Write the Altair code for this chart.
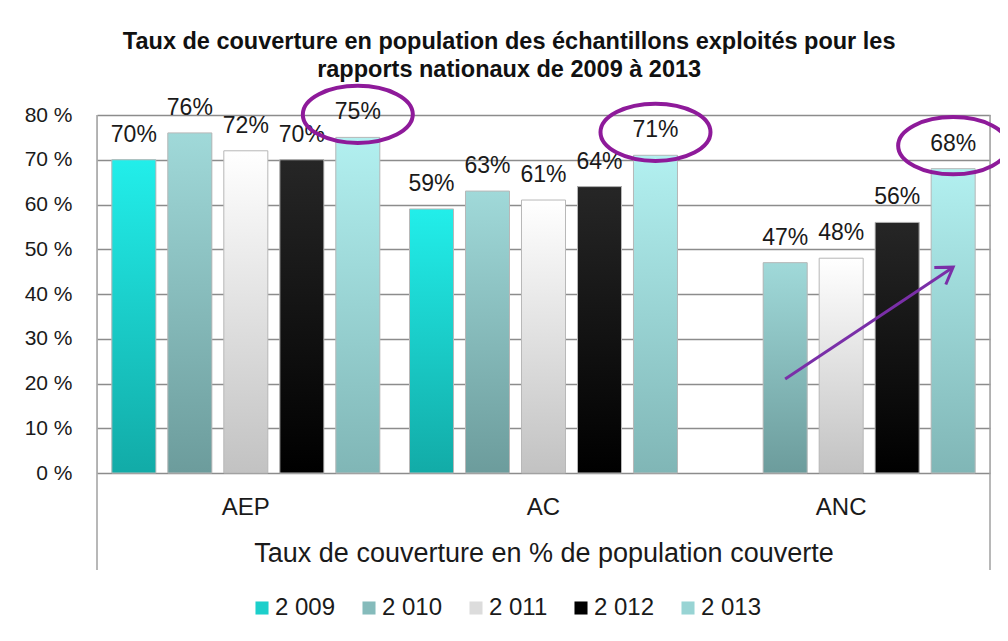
import altair as alt
import pandas as pd

# ---------------- data ----------------
categories = ["AEP", "AC", "ANC"]
years = ["2 009", "2 010", "2 011", "2 012", "2 013"]
v2009 = [0.70, 0.59, None]
v2010 = [0.76, 0.63, 0.47]
v2011 = [0.72, 0.61, 0.48]
v2012 = [0.70, 0.64, 0.56]
v2013 = [0.75, 0.71, 0.68]
series = [v2009, v2010, v2011, v2012, v2013]

y_ticks = [0, 0.1, 0.2, 0.3, 0.4, 0.5, 0.6, 0.7, 0.8]
title_lines = [
    "Taux de couverture en population  des échantillons exploités pour les",
    "rapports nationaux de 2009 à 2013",
]
x_title = "Taux de couverture en % de population couverte"

highlight_year = "2 013"
arrow_category = "ANC"
arrow_years = ["2 010", "2 013"]
arrow_values = [0.21, 0.46]

# ---------------- styles ----------------
legend_colors = ["#1CCFCB", "#85BBBB", "#DCDCDC", "#000000", "#98D4D4"]
grad_top = ["#22EEEA", "#A0D9D9", "#FFFFFF", "#262626", "#B2F0F0"]
grad_bottom = ["#12ABA7", "#6C9C9C", "#C2C2C2", "#000000", "#80B6B6"]
PURPLE = "#8E1A9A"
ARROW = "#7A2FA8"
GRID = "#8C8C8C"
FONT = "Liberation Sans"
W, H = 893, 358

rows = []
for yr, vals in zip(years, series):
    for cat, v in zip(categories, vals):
        if v is not None:
            rows.append({"cat": cat, "year": yr, "value": v})
df = pd.DataFrame(rows)

arrow_df = pd.DataFrame({"cat": [arrow_category] * 2, "year": arrow_years, "value": arrow_values})
arrow_end = arrow_df.iloc[[-1]]

x_enc = alt.X(
    "cat:N",
    sort=categories,
    scale=alt.Scale(domain=categories, paddingInner=0, paddingOuter=0),
    axis=alt.Axis(
        title=x_title, labelAngle=0, ticks=False, domain=False,
        labelFontSize=24, labelPadding=22, titleFontSize=27, titleFontWeight="normal",
        titlePadding=21, labelColor="#1a1a1a", titleColor="#1a1a1a",
        labelFont=FONT, titleFont=FONT,
    ),
)
xo_enc = alt.XOffset("year:N", scale=alt.Scale(domain=years, paddingInner=0.214, paddingOuter=0.265))
y_enc = alt.Y(
    "value:Q",
    scale=alt.Scale(domain=[0, 0.8]),
    axis=alt.Axis(
        values=y_ticks, title=None, ticks=False, domain=False,
        labelExpr="round(datum.value*100) + ' %'",
        labelFontSize=21, labelPadding=25, labelColor="#1a1a1a", labelFont=FONT,
        grid=True, gridColor=GRID, gridWidth=1.5,
    ),
)

base = alt.Chart(df).encode(x=x_enc, xOffset=xo_enc, y=y_enc)

legend_bars = base.mark_bar().encode(
    color=alt.Color(
        "year:N",
        scale=alt.Scale(domain=years, range=legend_colors),
        legend=alt.Legend(
            title=None, orient="none", direction="horizontal",
            legendX=153, legendY=481,
            symbolType="square", symbolSize=170, symbolStrokeWidth=0,
            labelFontSize=24, labelFont=FONT, labelColor="#1a1a1a",
            labelOffset=1, columnPadding=21,
        ),
    )
)

grad_layers = []
for yr, top, bot in zip(years, grad_top, grad_bottom):
    grad_layers.append(
        base.transform_filter(alt.datum.year == yr).mark_bar(
            color=alt.Gradient(
                gradient="linear", x1=0, x2=0, y1=0, y2=1,
                stops=[alt.GradientStop(color=top, offset=0), alt.GradientStop(color=bot, offset=1)],
            ),
            stroke="#B8B8B8", strokeWidth=1,
        )
    )

labels = base.mark_text(dy=-18, baseline="alphabetic", fontSize=23, font=FONT, color="#1a1a1a").encode(
    text=alt.Text("value:Q", format=".0%")
)

ELLIPSE = "M -1 0 A 1 0.52 0 1 1 1 0 A 1 0.52 0 1 1 -1 0 Z"
ellipses = base.transform_filter(alt.datum.year == highlight_year).mark_point(
    shape=ELLIPSE, size=12100, filled=False, stroke=PURPLE, strokeWidth=4, opacity=1, yOffset=-23
)

arrow_line = alt.Chart(arrow_df).mark_line(color=ARROW, strokeWidth=3).encode(
    x=x_enc, xOffset=xo_enc, y=y_enc
)
arrow_head = alt.Chart(arrow_end).mark_point(
    shape="M -1 -0.65 L 0 0 L -1 0.65", size=1000, filled=False, stroke=ARROW,
    strokeWidth=3, opacity=1, angle=326,
).encode(x=x_enc, xOffset=xo_enc, y=y_enc)

frame_df = pd.DataFrame({"a": [0]})
frame_left = alt.Chart(frame_df).mark_rule(color="#A0A0A0", strokeWidth=1.5).encode(
    x=alt.value(0), y=alt.value(0), y2=alt.value(H + 97)
)
frame_right = alt.Chart(frame_df).mark_rule(color="#A0A0A0", strokeWidth=1.5).encode(
    x=alt.value(W), y=alt.value(0), y2=alt.value(H + 97)
)

chart = alt.layer(
    frame_left, frame_right, legend_bars, *grad_layers, labels, ellipses, arrow_line, arrow_head
).properties(
    width=W,
    height=H,
    padding={"left": 89, "top": 107, "right": 10, "bottom": 160},
    autosize=alt.AutoSizeParams(type="none"),
    title=alt.Title(
        title_lines, fontSize=23.5, font=FONT, fontWeight="bold", color="#111111",
        anchor="middle", frame="bounds", offset=6, lineHeight=28, dy=10, dx=-11,
    ),
).configure_view(stroke=GRID, strokeWidth=1.5).configure(background="white")

chart.save("out.html", embed_options={"renderer": "svg", "actions": False})
